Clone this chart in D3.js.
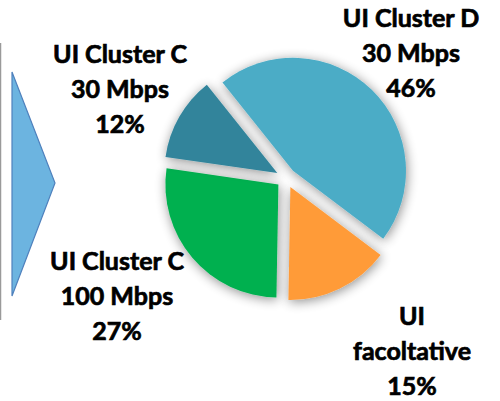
<!DOCTYPE html>
<html>
<head>
<meta charset="utf-8">
<script src="https://d3js.org/d3.v7.min.js"></script>
<style>
  body { margin: 0; background: #fff; }
  text { font-family: Lato, "Open Sans", sans-serif; font-weight: 700; fill: #000; stroke: #000; stroke-width: 0.7px; }
</style>
</head>
<body>
<svg id="chart" width="500" height="401"></svg>
<script>
// slice data, in drawing order (clockwise, starting near 11 o'clock)
var names = ["UI Cluster D", "UI", "UI Cluster C", "UI Cluster C"];
var speeds = ["30 Mbps", "facoltative", "100 Mbps", "30 Mbps"];
var shares = [46, 15, 27, 12];
var colors = ["#4BACC6", "#FF9B38", "#00B050", "#31849B"];

// where each label block sits (middle line baseline)
var labelPos = [[411, 62], [412, 360], [117, 305], [120, 98]];

var width = 500, height = 401;
var cx = 286, cy = 178, radius = 113, explode = 10;

var svg = d3.select("#chart");

var defs = svg.append("defs");
var glow = defs.append("filter").attr("id", "glow")
  .attr("x", "-30%").attr("y", "-30%").attr("width", "160%").attr("height", "160%");
glow.append("feGaussianBlur").attr("in", "SourceAlpha").attr("stdDeviation", 6).attr("result", "blur");
glow.append("feOffset").attr("in", "blur").attr("dx", 1).attr("dy", 2).attr("result", "off");
glow.append("feComponentTransfer").attr("in", "off").attr("result", "shadow")
  .append("feFuncA").attr("type", "linear").attr("slope", 0.45);
var merge = glow.append("feMerge");
merge.append("feMergeNode").attr("in", "shadow");
merge.append("feMergeNode").attr("in", "SourceGraphic");

// left frame edge and arrow
svg.append("line")
  .attr("x1", 0.5).attr("x2", 0.5).attr("y1", 43).attr("y2", 320)
  .attr("stroke", "#9a9a9a").attr("stroke-width", 1.5);
svg.append("path")
  .attr("d", "M12,72 L55,183 L12,296 Z")
  .attr("fill", "#6CB4E0").attr("stroke", "#4F81BD").attr("stroke-width", 1.2);

var startDeg = -38.6;
var pie = d3.pie().sort(null)
  .startAngle(startDeg * Math.PI / 180)
  .endAngle((startDeg + 360) * Math.PI / 180);
var arcs = pie(shares);

var arc = d3.arc().innerRadius(0).outerRadius(radius);

var g = svg.append("g")
  .attr("transform", "translate(" + cx + "," + cy + ")");

g.selectAll("path.slice")
  .data(arcs)
  .enter()
  .append("path")
  .attr("class", "slice")
  .attr("d", arc)
  .attr("fill", function(d, i) { return colors[i]; })
  .attr("filter", "url(#glow)")
  .attr("transform", function(d) {
    var mid = (d.startAngle + d.endAngle) / 2;
    return "translate(" + (Math.sin(mid) * explode) + "," + (-Math.cos(mid) * explode) + ")";
  });

// labels
var labels = svg.selectAll("text.lbl")
  .data(arcs)
  .enter()
  .append("text")
  .attr("class", "lbl")
  .attr("text-anchor", "middle")
  .attr("font-size", 25)
  .attr("x", function(d, i) { return labelPos[i][0]; })
  .attr("y", function(d, i) { return labelPos[i][1]; });

labels.each(function(d, i) {
  var t = d3.select(this);
  var lines = [names[i], speeds[i], shares[i] + "%"];
  lines.forEach(function(s, k) {
    t.append("tspan")
      .attr("x", labelPos[i][0])
      .attr("dy", k === 0 ? -35 : 35)
      .text(s);
  });
});
</script>
</body>
</html>
